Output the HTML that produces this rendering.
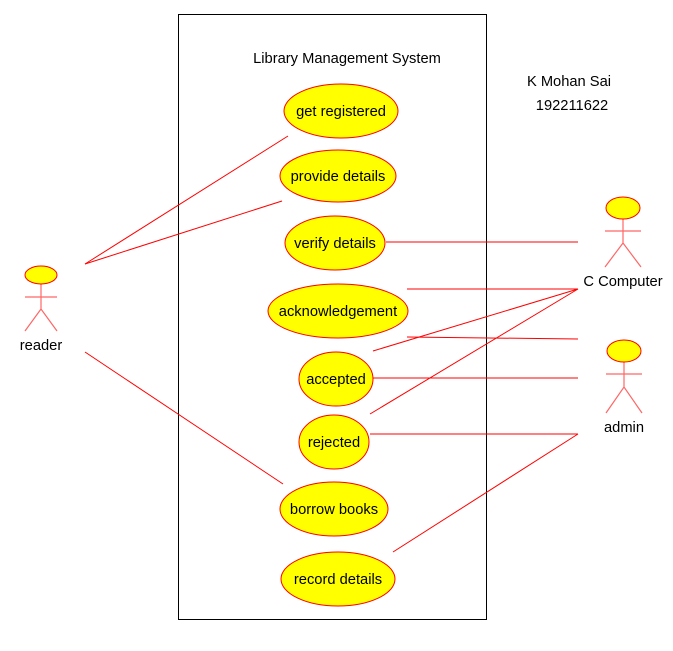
<!DOCTYPE html>
<html><head><style>body{margin:0;background:#fff}</style></head><body>
<svg width="673" height="646" xmlns="http://www.w3.org/2000/svg" font-family="Liberation Sans, Arial, sans-serif" font-size="14.7">
<rect x="178.5" y="14.5" width="308" height="605" fill="#fff" stroke="#000"/>
<text x="347" y="63" text-anchor="middle">Library Management System</text>
<text x="569" y="86" text-anchor="middle">K Mohan Sai</text>
<text x="572" y="110" text-anchor="middle">192211622</text>
<g stroke="#f00" stroke-width="1" fill="none">
<line x1="85" y1="264" x2="288" y2="136"/>
<line x1="85" y1="264" x2="282" y2="201"/>
<line x1="85" y1="352" x2="283" y2="484"/>
<line x1="386" y1="242" x2="578" y2="242"/>
<line x1="407" y1="289" x2="578" y2="289"/>
<line x1="407" y1="337" x2="578" y2="339"/>
<line x1="373" y1="351" x2="578" y2="289"/>
<line x1="373" y1="378" x2="578" y2="378"/>
<line x1="370" y1="414" x2="578" y2="289"/>
<line x1="370" y1="434" x2="578" y2="434"/>
<line x1="393" y1="552" x2="578" y2="434"/>
</g>
<g fill="#ff0" stroke="#f00">
<ellipse cx="341" cy="111" rx="57" ry="27"/>
<ellipse cx="338" cy="176" rx="58" ry="26"/>
<ellipse cx="335" cy="243" rx="50" ry="27"/>
<ellipse cx="338" cy="311" rx="70" ry="27"/>
<ellipse cx="336" cy="379" rx="37" ry="27"/>
<ellipse cx="334" cy="442" rx="35" ry="27"/>
<ellipse cx="334" cy="509" rx="54" ry="27"/>
<ellipse cx="338" cy="579" rx="57" ry="27"/>
</g>
<g text-anchor="middle">
<text x="341" y="116">get registered</text>
<text x="338" y="181">provide details</text>
<text x="335" y="248">verify details</text>
<text x="338" y="316">acknowledgement</text>
<text x="336" y="384">accepted</text>
<text x="334" y="447">rejected</text>
<text x="334" y="514">borrow books</text>
<text x="338" y="584">record details</text>
</g>
<g stroke="#f66" stroke-width="1.2" fill="none">
<path d="M41 284V309M25 297H57M25 331L41 309L57 331"/>
<path d="M623 219V243M605 231H641M605 267L623 243L641 267"/>
<path d="M624 362V387M606 374H642M606 413L624 387L642 413"/>
</g>
<g fill="#ff0" stroke="#f00">
<ellipse cx="41" cy="275" rx="16" ry="9"/>
<ellipse cx="623" cy="208" rx="17" ry="11"/>
<ellipse cx="624" cy="351" rx="17" ry="11"/>
</g>
<g text-anchor="middle">
<text x="41" y="350">reader</text>
<text x="623" y="286">C Computer</text>
<text x="624" y="432">admin</text>
</g>
</svg>
</body></html>
